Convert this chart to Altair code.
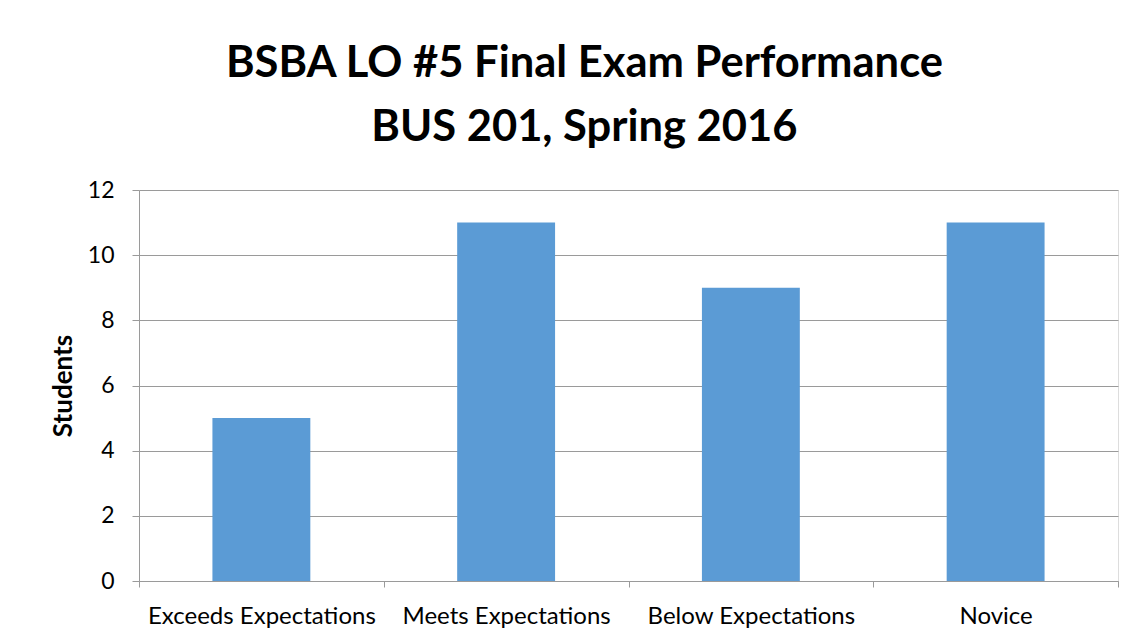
import altair as alt
import pandas as pd

categories = ["Exceeds Expectations", "Meets Expectations", "Below Expectations", "Novice"]
students = [5, 11, 9, 11]
y_ticks = [0, 2, 4, 6, 8, 10, 12]

df = pd.DataFrame({"category": categories, "students": students})

FONT = "Lato"
GRID = "#9a9a9a"

chart = alt.Chart(df).mark_bar(color="#5B9BD5", width={"band": 0.4}).encode(
    x=alt.X("category:N", sort=categories, title=None,
            scale=alt.Scale(paddingInner=0, paddingOuter=0),
            axis=alt.Axis(labelAngle=0, tickBand="extent", tickSize=6, tickColor=GRID,
                          domainColor=GRID, labelFontSize=24, labelFont=FONT, labelLimit=0,
                          labelColor="#000000", labelPadding=17, grid=False)),
    y=alt.Y("students:Q", title="Students",
            scale=alt.Scale(domain=[0, 12], nice=False),
            axis=alt.Axis(values=y_ticks, tickSize=7, tickColor=GRID, domainColor=GRID,
                          gridColor=GRID, labelFontSize=23, labelFont=FONT,
                          labelColor="#000000", labelPadding=18, titleFont=FONT,
                          titleFontSize=26, titleFontWeight="bold", titleColor="#000000",
                          titlePadding=11)),
).properties(
    width=979,
    height=391,
    title=alt.Title(["BSBA LO #5 Final Exam Performance", "BUS 201, Spring 2016"],
                    font=FONT, fontSize=43.5, fontWeight="bold", color="#000000",
                    anchor="middle", frame="bounds", lineHeight=64, offset=29),
    autosize=alt.AutoSizeParams(type="none"),
    padding={"left": 131, "top": 182, "right": 19, "bottom": 55},
).configure_view(stroke=None).configure(background="white")

chart.save("out.html", embed_options={"renderer": "svg", "actions": False})
